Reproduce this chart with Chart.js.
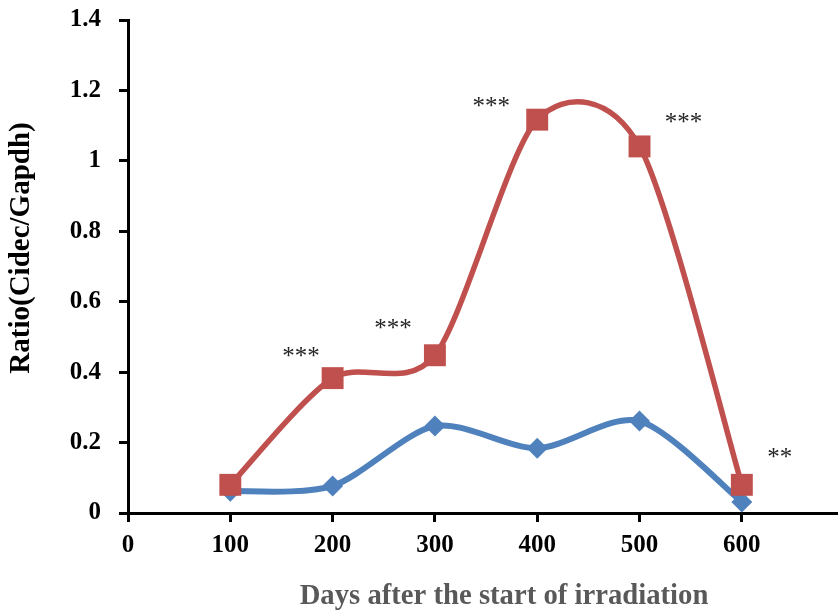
<!DOCTYPE html>
<html>
<head>
<meta charset="utf-8">
<script src="https://cdn.jsdelivr.net/npm/chart.js@4.4.1/dist/chart.umd.min.js"></script>
<style>
  html, body { margin: 0; padding: 0; background: #fff; }
  #wrap { width: 838px; height: 612px; }
</style>
</head>
<body>
<div id="wrap"><canvas id="graph" width="838" height="612"></canvas></div>
<script>
const days = [100, 200, 300, 400, 500, 600]
const redRatio = [0.08, 0.383, 0.448, 1.117, 1.041, 0.08]
const blueRatio = [0.062, 0.077, 0.247, 0.184, 0.261, 0.031]

const xTicks = [0, 100, 200, 300, 400, 500, 600]
const yTicks = [0, 0.2, 0.4, 0.6, 0.8, 1, 1.2, 1.4]

// significance marks, placed in data units
const starLabels = ["***", "***", "***", "***", "**"]
const starDays = [169, 259, 355, 543, 637]
const starRatio = [0.457, 0.537, 1.167, 1.122, 0.17]

const xTitle = "Days after the start of irradiation"
const yTitle = "Ratio(Cidec/Gapdh)"

const canv = /**@type {HTMLCanvasElement}*/(document.getElementById("graph"))
const ctx = canv.getContext("2d")

const serif = '"Liberation Serif", "Times New Roman", serif'

// excel-like smoothing: uniform catmull-rom control points instead of
// chart.js' distance weighted ones
const smoothing = 0.14
const smoothPlugin = {
    id: 'smooth',
    beforeDatasetDraw(chart, args) {
        const line = args.meta.dataset
        const pts = line.points
        const n = pts.length
        for (let i = 0; i < n; i++) {
            const p = pts[i]
            const prev = pts[Math.max(i - 1, 0)]
            const next = pts[Math.min(i + 1, n - 1)]
            const dx = (next.x - prev.x) * smoothing
            const dy = (next.y - prev.y) * smoothing
            p.cp1x = p.x - dx; p.cp1y = p.y - dy
            p.cp2x = p.x + dx; p.cp2y = p.y + dy
        }
        line._pointsUpdated = true
    }
}

const textsPlugin = {
    id: 'texts',
    afterDraw(chart) {
        const c = chart.ctx
        const {x, y} = chart.scales
        c.save()
        c.fillStyle = '#262626'
        c.font = '25px ' + serif
        c.textAlign = 'center'
        c.textBaseline = 'alphabetic'
        starLabels.forEach((s, i) => {
            c.fillText(s, x.getPixelForValue(starDays[i]), y.getPixelForValue(starRatio[i]) + 12)
        })

        c.font = 'bold 28.7px ' + serif
        c.textBaseline = 'middle'
        c.fillStyle = '#595959'
        c.fillText(xTitle, 504, 597)

        c.fillStyle = '#000'
        c.font = 'bold 29px ' + serif
        c.translate(22, 248)
        c.rotate(-Math.PI / 2)
        c.fillText(yTitle, 0, 0)
        c.restore()
    }
}

const axisLook = {
    grid: { display: true, drawOnChartArea: false, drawTicks: true, tickLength: 9, color: '#000', lineWidth: 3 },
    border: { display: true, color: '#000', width: 3 },
}

new Chart(ctx, {
    type: 'line',
    data: {
        datasets: [{
            label: 'red',
            data: days.map((d, i) => ({x: d, y: redRatio[i]})),
            borderColor: '#C0504D',
            backgroundColor: '#C0504D',
            borderWidth: 5.5,
            pointStyle: 'rect',
            pointRadius: 15.5,
            pointBorderWidth: 0,
            tension: 0.4,
            clip: false
        }, {
            label: 'blue',
            data: days.map((d, i) => ({x: d, y: blueRatio[i]})),
            borderColor: '#4F81BD',
            backgroundColor: '#4F81BD',
            borderWidth: 6,
            pointStyle: 'rectRot',
            pointRadius: 10.5,
            pointBorderWidth: 0,
            tension: 0.4,
            clip: false
        }]
    },
    options: {
        responsive: false,
        animation: false,
        devicePixelRatio: 1,
        layout: { autoPadding: false, padding: { top: 20, left: 0, right: 0, bottom: 0 } },
        plugins: { legend: { display: false }, tooltip: { enabled: false } },
        scales: {
            x: {
                type: 'linear',
                min: 0,
                max: 694,
                ...axisLook,
                afterBuildTicks: s => { s.ticks = xTicks.map(v => ({value: v})) },
                afterFit: s => { s.height = 99; s.paddingLeft = 0; s.paddingRight = 0 },
                ticks: { color: '#000', padding: 9, font: { family: serif, size: 25, weight: 'bold' } }
            },
            y: {
                min: 0,
                max: 1.4,
                ...axisLook,
                afterBuildTicks: s => { s.ticks = yTicks.map(v => ({value: v})) },
                afterFit: s => { s.width = 128; s.paddingTop = 0; s.paddingBottom = 0 },
                ticks: { color: '#000', padding: 18, callback: v => String(v), font: { family: serif, size: 25, weight: 'bold' } }
            }
        }
    },
    plugins: [smoothPlugin, textsPlugin]
})
</script>
</body>
</html>
